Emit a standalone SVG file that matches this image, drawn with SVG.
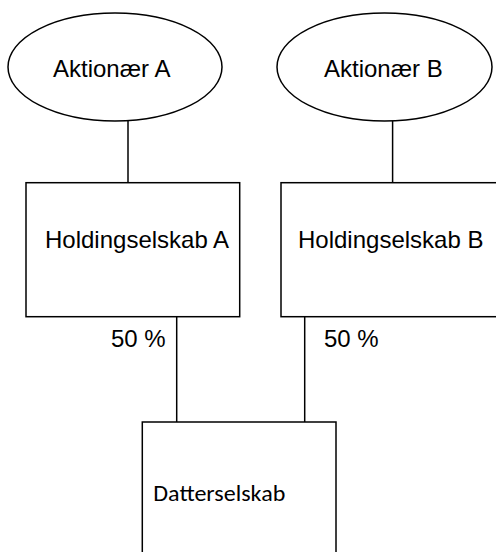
<svg xmlns="http://www.w3.org/2000/svg" width="496" height="552" viewBox="0 0 496 552">
  <style>
    .shape { fill: #ffffff; stroke: #000000; stroke-width: 1.5; }
    .link { fill: none; stroke: #000000; stroke-width: 1.5; }
    .label { font-family: "Liberation Sans", Arial, sans-serif; font-size: 24px; fill: #000000; }
    .label-alt { font-family: Carlito, Calibri, Lato, sans-serif; font-size: 22px; fill: #000000; }
  </style>
  <rect width="496" height="552" fill="#ffffff"/>

  <!-- connectors -->
  <g id="connectors">
    <line class="link" x1="128" y1="121" x2="128" y2="183"/>
    <line class="link" x1="392.6" y1="121" x2="392.6" y2="183"/>
    <line class="link" x1="176.7" y1="317" x2="176.7" y2="422"/>
    <line class="link" x1="304.7" y1="317" x2="304.7" y2="422"/>
    <text class="label" x="111" y="347">50 %</text>
    <text class="label" x="324" y="347">50 %</text>
  </g>

  <g id="aktionaer-a">
    <ellipse class="shape" cx="115" cy="67" rx="107" ry="54"/>
    <text class="label" x="53" y="77">Aktionær A</text>
  </g>

  <g id="aktionaer-b">
    <ellipse class="shape" cx="384.5" cy="67" rx="107.5" ry="54"/>
    <text class="label" x="324" y="77">Aktionær B</text>
  </g>

  <g id="holding-a">
    <rect class="shape" x="26" y="182.7" width="213.7" height="134"/>
    <text class="label" x="45" y="248">Holdingselskab A</text>
  </g>

  <g id="holding-b">
    <rect class="shape" x="281" y="182.7" width="222" height="134"/>
    <text class="label" x="298" y="248">Holdingselskab B</text>
  </g>

  <g id="datterselskab">
    <rect class="shape" x="142.3" y="422" width="193.7" height="140"/>
    <text class="label-alt" x="153.3" y="501" textLength="132" lengthAdjust="spacingAndGlyphs">Datterselskab</text>
  </g>
</svg>
